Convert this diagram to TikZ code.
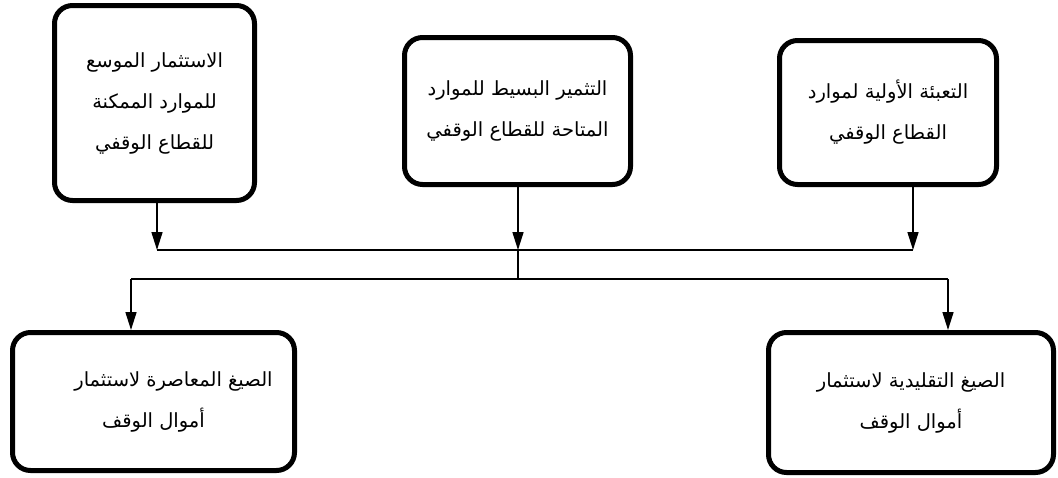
\documentclass[tikz,border=0pt]{standalone}
\usepackage{fontspec}
\newfontfamily\arabicfont[Script=Arabic]{DejaVu Sans}
\TeXXeTstate=1
\usetikzlibrary{arrows.meta}
\begin{document}
\begin{tikzpicture}[x=1pt,y=1pt,
  box/.style={draw, line width=5pt, rounded corners=18pt, align=center, fill=white,
    font=\arabicfont\fontsize{19.5}{41}\selectfont, inner sep=0pt},
  arr/.style={line width=1.6pt, -{Triangle[length=18pt,width=11pt]}},
  ln/.style={line width=1.6pt}]
\useasboundingbox[fill=white] (0,0) rectangle (1058,-477);
% top boxes
\node[box, minimum width=200pt, minimum height=195pt] (a1) at (154.5,-103)
  {\beginR الاستثمار الموسع\endR\\\beginR للموارد الممكنة\endR\\\beginR للقطاع الوقفي\endR};
\node[box, minimum width=226pt, minimum height=147pt] (a2) at (517.5,-111)
  {\beginR التثمير البسيط للموارد\endR\\\beginR المتاحة للقطاع الوقفي\endR};
\node[box, minimum width=217pt, minimum height=144pt] (a3) at (888,-112.5)
  {\beginR التعبئة الأولية لموارد\endR\\\beginR القطاع الوقفي\endR};
% bottom boxes
\node[box, minimum width=282pt, minimum height=138pt] (b1) at (153.5,-401.5)
  {\beginR الصيغ المعاصرة لاستثمار\hspace*{40pt}\endR\\\beginR أموال الوقف\endR};
\node[box, minimum width=285pt, minimum height=140pt] (b2) at (911,-402.5)
  {\beginR الصيغ التقليدية لاستثمار\endR\\\beginR أموال الوقف\endR};
% junction coordinates
\coordinate (t1) at (157,-250);
\coordinate (t2) at (518,-250);
\coordinate (t3) at (913,-250);
\coordinate (m) at (518,-279);
\coordinate (d1) at (131,-279);
\coordinate (d2) at (948,-279);
% connectors
\draw[arr] (t1 |- a1.south) -- (t1);
\draw[arr] (t2 |- a2.south) -- (t2);
\draw[arr] (t3 |- a3.south) -- (t3);
\draw[ln] (t1) -- (t3);
\draw[ln] (t2) -- (m);
\draw[ln] (d1) -- (d2);
\draw[arr] (d1) -- (d1 |- b1.north);
\draw[arr] (d2) -- (d2 |- b2.north);
\end{tikzpicture}
\end{document}
